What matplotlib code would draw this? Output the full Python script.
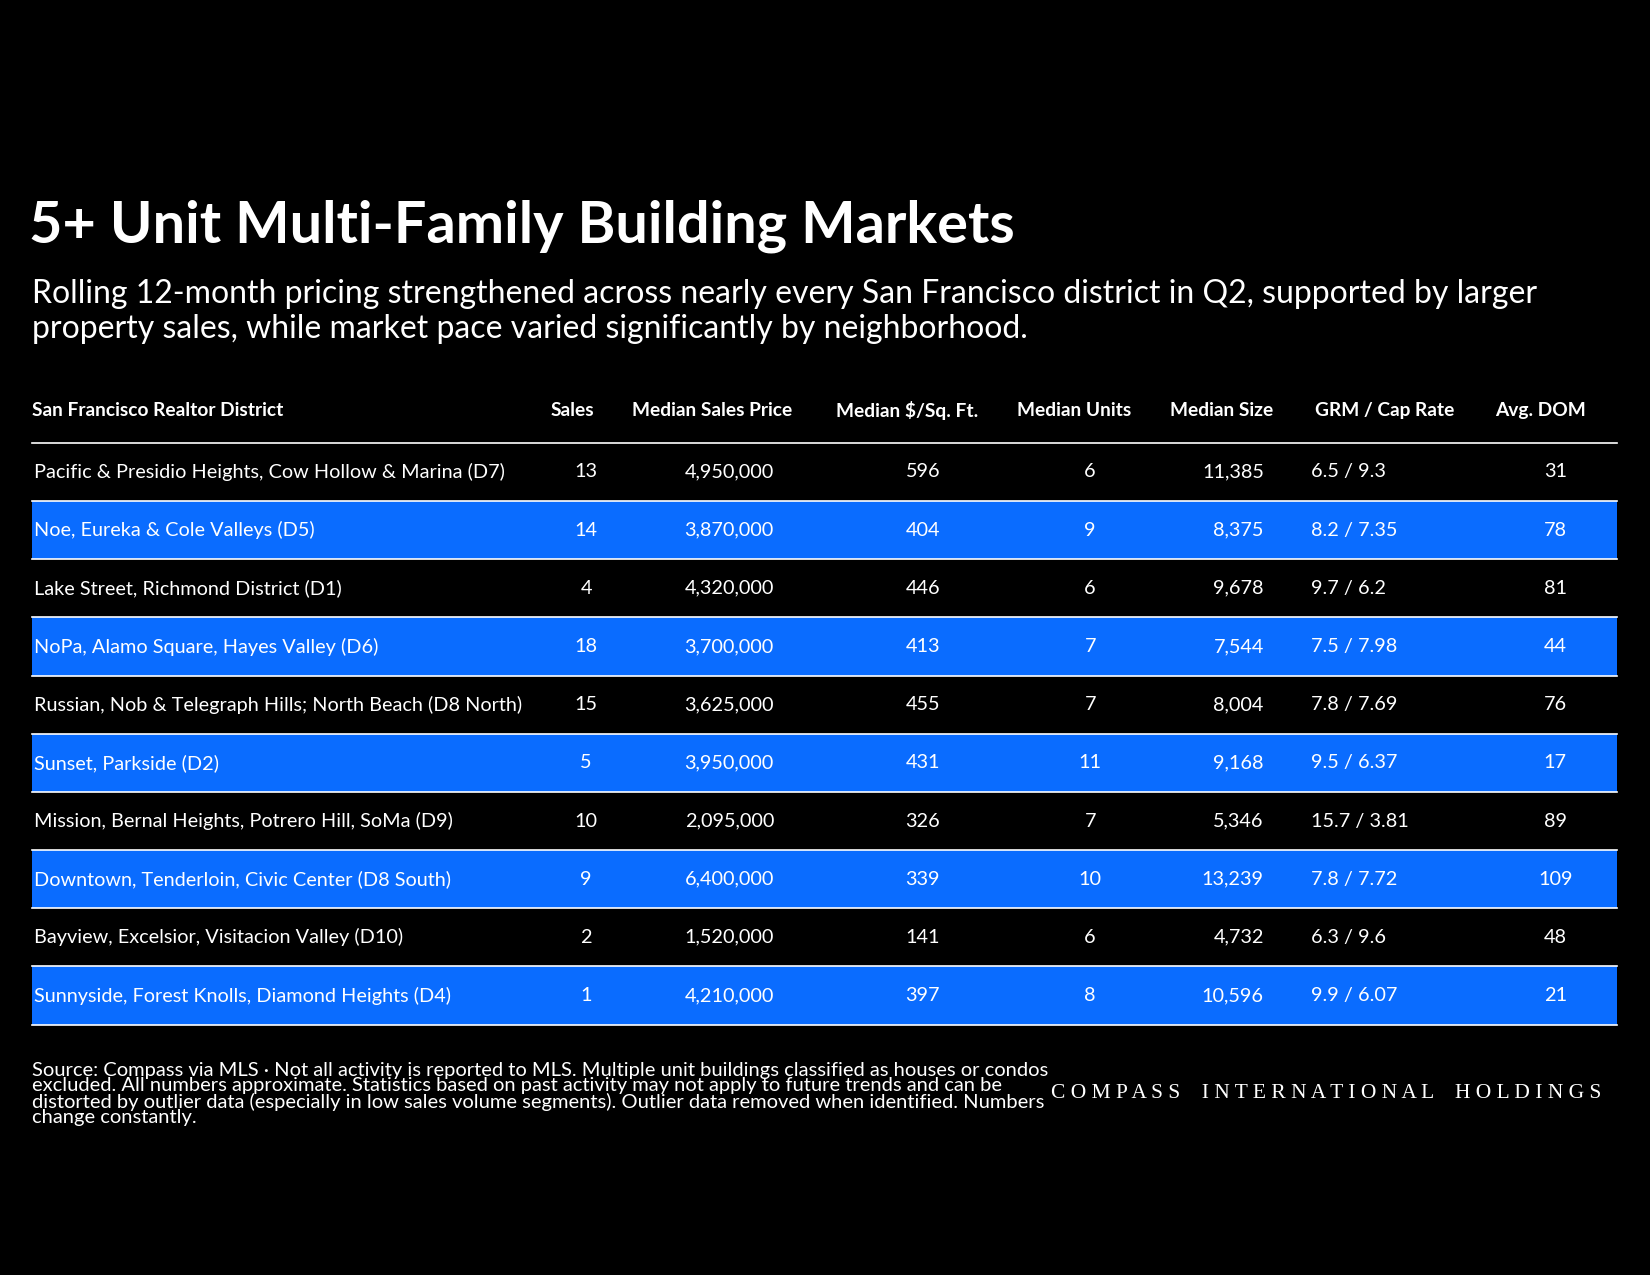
import matplotlib
matplotlib.use("Agg")
import matplotlib.pyplot as plt

plt.rcParams['font.family'] = ['Lato', 'DejaVu Sans']

districts = [
    "Pacific & Presidio Heights, Cow Hollow & Marina (D7)",
    "Noe, Eureka & Cole Valleys (D5)",
    "Lake Street, Richmond District (D1)",
    "NoPa, Alamo Square, Hayes Valley (D6)",
    "Russian, Nob & Telegraph Hills; North Beach (D8 North)",
    "Sunset, Parkside (D2)",
    "Mission, Bernal Heights, Potrero Hill, SoMa (D9)",
    "Downtown, Tenderloin, Civic Center (D8 South)",
    "Bayview, Excelsior, Visitacion Valley (D10)",
    "Sunnyside, Forest Knolls, Diamond Heights (D4)",
]
sales = [13, 14, 4, 18, 15, 5, 10, 9, 2, 1]
median_price = [4950000, 3870000, 4320000, 3700000, 3625000, 3950000, 2095000, 6400000, 1520000, 4210000]
price_sqft = [596, 404, 446, 413, 455, 431, 326, 339, 141, 397]
median_units = [6, 9, 6, 7, 7, 11, 7, 10, 6, 8]
median_size = [11385, 8375, 9678, 7544, 8004, 9168, 5346, 13239, 4732, 10596]
grm_cap = ["6.5 / 9.3", "8.2 / 7.35", "9.7 / 6.2", "7.5 / 7.98", "7.8 / 7.69",
           "9.5 / 6.37", "15.7 / 3.81", "7.8 / 7.72", "6.3 / 9.6", "9.9 / 6.07"]
avg_dom = [31, 78, 81, 44, 76, 17, 89, 109, 48, 21]
headers = ["San Francisco Realtor District", "Sales", "Median Sales Price", "Median $/Sq. Ft.",
           "Median Units", "Median Size", "GRM / Cap Rate", "Avg. DOM"]

W, H = 1568, 1212
BLUE = "#0a6cff"
fig = plt.figure(figsize=(16.5, 12.75), dpi=100, facecolor="black")
ax = fig.add_axes([0, 0, 1, 1])
ax.set_xlim(0, W)
ax.set_ylim(H, 0)
ax.axis("off")
ax.set_facecolor("black")

ax.text(28, 215, "5+ Unit Multi-Family Building Markets", color="white", fontsize=41.5,
        fontweight="bold", va="center", ha="left")
ax.text(30, 296, "Rolling 12-month pricing strengthened across nearly every San Francisco district in Q2, supported by larger\n"
        "property sales, while market pace varied significantly by neighborhood.",
        color="white", fontsize=23, va="center", ha="left", linespacing=1.2)

# header
hx = [30, 544, 677, 862, 1021, 1161, 1316, 1464]
for i, (x, h) in enumerate(zip(hx, headers)):
    ax.text(x, 390, h, color="white", fontsize=13.8, fontweight="bold",
            ha="left" if i == 0 else "center", va="center")

top, rh, x0, x1 = 421, 55.3, 30, 1537
ax.plot([x0, x1], [top, top], color="white", lw=1.2)
for i in range(len(districts)):
    y0 = top + i * rh
    if i % 2 == 1:
        ax.fill_between([x0, x1], y0, y0 + rh, color=BLUE, lw=0)
    ax.plot([x0, x1], [y0 + rh, y0 + rh], color="white", lw=1.2)
    yc = y0 + rh / 2
    kw = dict(color="white", fontsize=14.3, va="center")
    ax.text(32, yc, districts[i], ha="left", **kw)
    ax.text(557, yc, str(sales[i]), ha="center", **kw)
    ax.text(693, yc, f"{median_price[i]:,}", ha="center", **kw)
    ax.text(877, yc, str(price_sqft[i]), ha="center", **kw)
    ax.text(1036, yc, str(median_units[i]), ha="center", **kw)
    ax.text(1201, yc, f"{median_size[i]:,}", ha="right", **kw)
    ax.text(1246, yc, grm_cap[i], ha="left", **kw)
    ax.text(1478, yc, str(avg_dom[i]), ha="center", **kw)

ax.text(30, 1040, "Source: Compass via MLS \u00b7 Not all activity is reported to MLS. Multiple unit buildings classified as houses or condos\n"
        "excluded. All numbers approximate. Statistics based on past activity may not apply to future trends and can be\n"
        "distorted by outlier data (especially in low sales volume segments). Outlier data removed when identified. Numbers\n"
        "change constantly.", color="white", fontsize=14.5, va="center", ha="left", linespacing=0.9)
brand = "COMPASS INTERNATIONAL HOLDINGS"
ax.text(1522, 1039, " ".join(brand).replace("   ", "    "), color="white", fontsize=15.5,
        family=["Liberation Serif", "DejaVu Serif"], ha="right", va="center")

fig.savefig("out.png", dpi=100, facecolor="black")
